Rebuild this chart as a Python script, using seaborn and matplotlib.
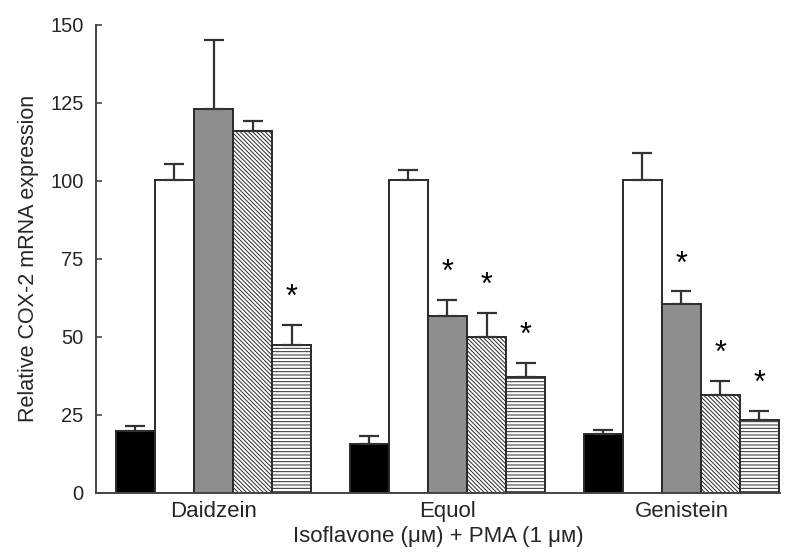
import numpy as np
import pandas as pd
import matplotlib
matplotlib.use("Agg")
import matplotlib.pyplot as plt
import seaborn as sns

compounds = ["Daidzein", "Equol", "Genistein"]
treatments = ["Control", "PMA", "Iso low", "Iso mid", "Iso high"]

means = {
    "Daidzein":  [20.0, 100.3, 123.0, 116.1, 47.5],
    "Equol":     [15.7, 100.2, 56.7, 49.9, 37.1],
    "Genistein": [18.9, 100.2, 60.5, 31.5, 23.4],
}
errors = {
    "Daidzein":  [1.6, 5.0, 22.2, 3.2, 6.4],
    "Equol":     [2.4, 3.3, 5.2, 7.8, 4.5],
    "Genistein": [1.3, 8.6, 4.1, 4.4, 3.0],
}
significant = {
    "Daidzein":  [False, False, False, False, True],
    "Equol":     [False, False, True, True, True],
    "Genistein": [False, False, True, True, True],
}
yticks = [0, 25, 50, 75, 100, 125, 150]

rows = []
for c in compounds:
    for i, t in enumerate(treatments):
        rows.append({"compound": c, "treatment": t, "value": means[c][i],
                     "err": errors[c][i], "sig": significant[c][i]})
df = pd.DataFrame(rows)

sns.set_style("white")
plt.rcParams["font.family"] = ["Liberation Sans", "DejaVu Sans"]
plt.rcParams["hatch.linewidth"] = 0.7

fig = plt.figure(figsize=(7.94, 5.52), dpi=100)
ax = fig.add_axes([0.121, 0.107, 0.861, 0.848])

facecolors = ["black", "white", "#8e8e8e", "white", "white"]
hatches = [None, None, None, "\\\\\\\\\\\\\\\\", "-----"]
edge = "#2a2a2a"

sns.barplot(data=df, x="compound", y="value", hue="treatment",
            order=compounds, hue_order=treatments, width=0.834,
            errorbar=None, legend=False, ax=ax, saturation=1)

bar_containers = list(ax.containers)
for ti, cont in enumerate(bar_containers):
    for ci, bar in enumerate(cont.patches):
        bar.set_facecolor(facecolors[ti])
        bar.set_edgecolor(edge)
        bar.set_linewidth(1.4)
        if hatches[ti]:
            bar.set_hatch(hatches[ti])
        row = df[(df.compound == compounds[ci]) & (df.treatment == treatments[ti])].iloc[0]
        xc = bar.get_x() + bar.get_width() / 2
        h = bar.get_height()
        ax.errorbar([xc], [h], yerr=[[0], [row.err]], fmt="none",
                     ecolor="#333333", elinewidth=1.6, capsize=7, capthick=1.6,
                     zorder=1)
        if row.sig:
            ax.text(xc, h + row.err + 8.6, "*", ha="center", va="center",
                    fontsize=22, color="black")

ax.set_xlim(-0.502, 2.42)
ax.set_ylim(0, 150)
ax.set_yticks(yticks)
ax.set_yticklabels([str(v) for v in yticks], fontsize=14.5)
ax.tick_params(axis="y", direction="in", length=4, width=1.2, color="#444444", pad=9, left=True)
ax.tick_params(axis="x", length=0, labelsize=16, pad=6)
for s in ["top", "right"]:
    ax.spines[s].set_visible(False)
for s in ["left", "bottom"]:
    ax.spines[s].set_color("#444444")
    ax.spines[s].set_linewidth(1.4)

ax.set_xlabel("Isoflavone (\u03bc\u1d0d) + PMA (1 \u03bc\u1d0d)", fontsize=16, labelpad=3)
ax.set_ylabel("Relative COX-2 mRNA expression", fontsize=15.5, labelpad=8)

fig.savefig("out.png", dpi=100)
